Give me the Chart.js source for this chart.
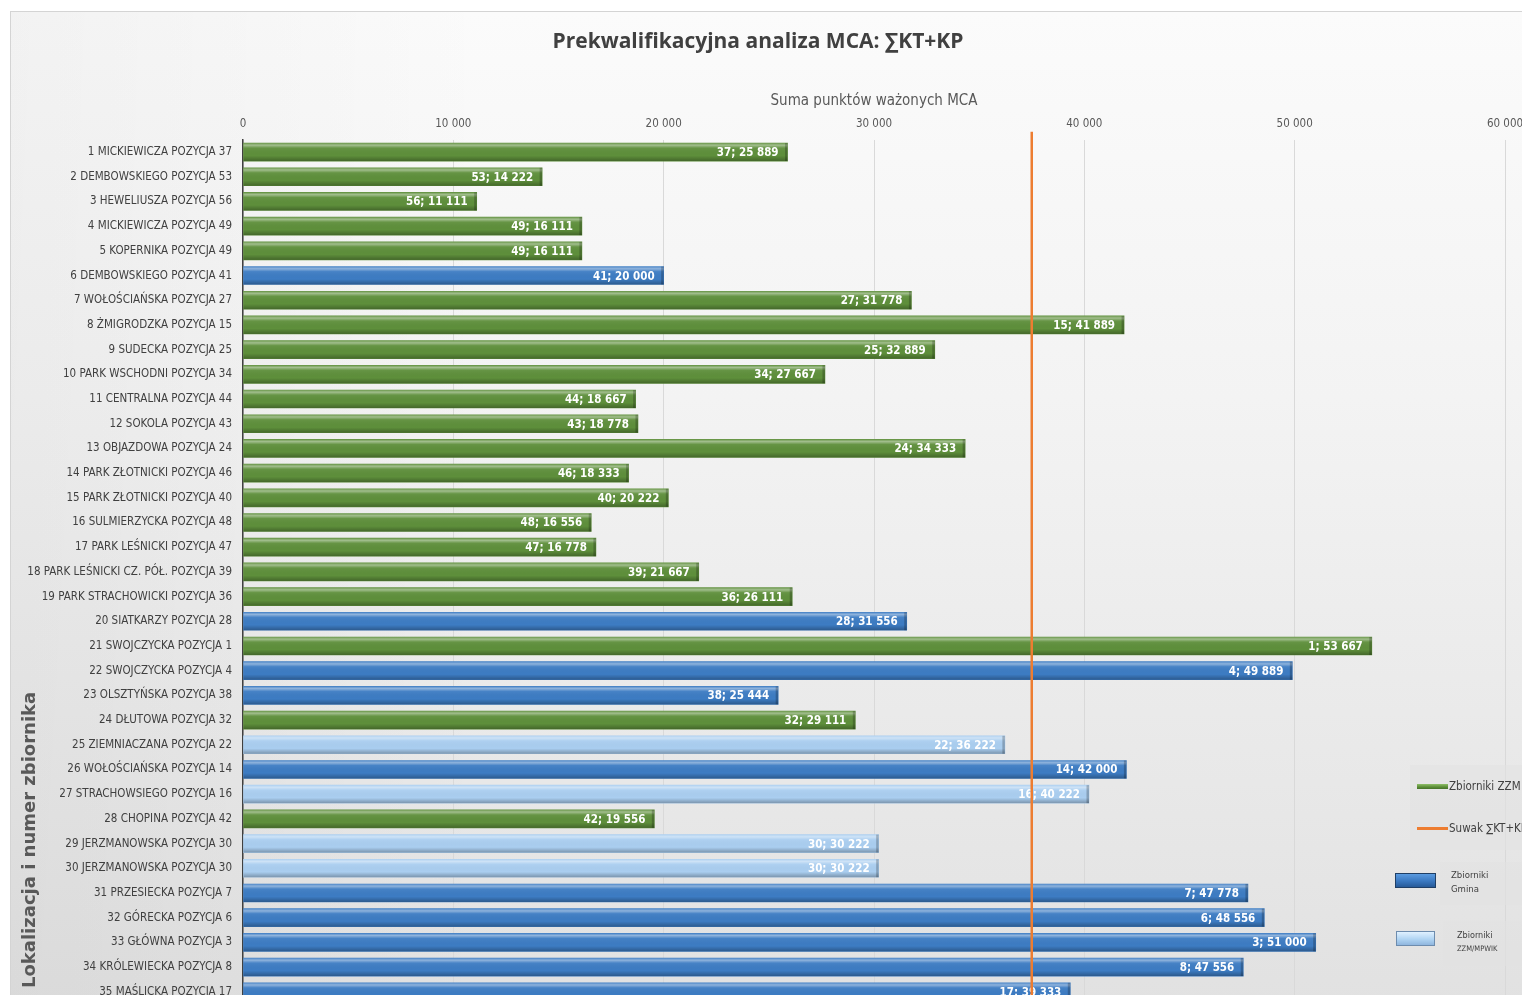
<!DOCTYPE html>
<html lang="pl">
<head>
<meta charset="UTF-8">
<title>Prekwalifikacyjna analiza MCA</title>
<script src="https://cdn.jsdelivr.net/npm/chart.js"></script>
<style>
  html, body { margin: 0; padding: 0; background: #fff; overflow: hidden; width: 1522px; height: 995px; }
  .frame {
    position: absolute; left: 10px; top: 11px; width: 1600px; height: 1100px;
    border: 1px solid #d4d4d4;
    background:
      linear-gradient(90deg, rgba(0,0,0,0.035) 0%, rgba(0,0,0,0) 30%),
      linear-gradient(180deg, #fbfbfb 0%, #f3f3f3 35%, #e8e8e8 70%, #dedede 100%);
  }
  #mca { position: absolute; left: 0; top: 0; }
  .lg { position: absolute; font-family: "Liberation Sans Narrow", "DejaVu Sans Condensed", sans-serif; color: #404040; white-space: nowrap; }
  .box { position: absolute; background: rgba(226,226,226,0.55); }
  .sw { position: absolute; }
</style>
</head>
<body>
<div class="frame">
  <canvas id="mca" width="1534" height="1010"></canvas>
</div>

<!-- legenda (obok wykresu, jak w oryginale) -->
<div class="box" style="left:1410px; top:765px; width:130px; height:85px;"></div>
<div class="sw" style="left:1417px; top:784px; width:31px; height:5px; background:linear-gradient(#8fbf68,#5b8d37 60%,#46722a);"></div>
<div class="lg" style="left:1449px; top:779px; font-size:11.5px;">Zbiorniki ZZM</div>
<div class="sw" style="left:1417px; top:827px; width:31px; height:3px; background:#ed7d31;"></div>
<div class="lg" style="left:1449px; top:821px; font-size:11.5px;">Suwak ∑KT+KP</div>

<div class="box" style="left:1440px; top:862px; width:100px; height:43px;"></div>
<div class="sw" style="left:1395px; top:873px; width:39px; height:13px; border:1px solid #1f3f66; background:linear-gradient(#5b9be0,#3a78c0 55%,#275a98);"></div>
<div class="lg" style="left:1451px; top:868px; font-size:9.5px; line-height:14px;">Zbiorniki<br>Gmina</div>

<div class="box" style="left:1443px; top:921px; width:100px; height:45px;"></div>
<div class="sw" style="left:1396px; top:931px; width:37px; height:13px; border:1px solid #6d8cae; background:linear-gradient(#e0f1ff,#b0d4f3 55%,#8fb6de);"></div>
<div class="lg" style="left:1457px; top:929px; font-size:9px; line-height:13px;">Zbiorniki<br><span style="font-size:7.5px">ZZM/MPWIK</span></div>

<script>
// kategorie (lokalizacja i numer zbiornika)
const categories = [
  '1 MICKIEWICZA POZYCJA 37', '2 DEMBOWSKIEGO POZYCJA 53', '3 HEWELIUSZA POZYCJA 56',
  '4 MICKIEWICZA POZYCJA 49', '5 KOPERNIKA POZYCJA 49', '6 DEMBOWSKIEGO POZYCJA 41',
  '7 WOŁOŚCIAŃSKA POZYCJA 27', '8 ŻMIGRODZKA POZYCJA 15', '9 SUDECKA POZYCJA 25',
  '10 PARK WSCHODNI POZYCJA 34', '11 CENTRALNA POZYCJA 44', '12 SOKOLA POZYCJA 43',
  '13 OBJAZDOWA POZYCJA 24', '14 PARK ZŁOTNICKI POZYCJA 46', '15 PARK ZŁOTNICKI POZYCJA 40',
  '16 SULMIERZYCKA POZYCJA 48', '17 PARK LEŚNICKI POZYCJA 47', '18 PARK LEŚNICKI CZ. PÓŁ. POZYCJA 39',
  '19 PARK STRACHOWICKI POZYCJA 36', '20 SIATKARZY POZYCJA 28', '21 SWOJCZYCKA POZYCJA 1',
  '22 SWOJCZYCKA POZYCJA 4', '23 OLSZTYŃSKA POZYCJA 38', '24 DŁUTOWA POZYCJA 32',
  '25 ZIEMNIACZANA POZYCJA 22', '26 WOŁOŚCIAŃSKA POZYCJA 14', '27 STRACHOWSIEGO POZYCJA 16',
  '28 CHOPINA POZYCJA 42', '29 JERZMANOWSKA POZYCJA 30', '30 JERZMANOWSKA POZYCJA 30',
  '31 PRZESIECKA POZYCJA 7', '32 GÓRECKA POZYCJA 6', '33 GŁÓWNA POZYCJA 3',
  '34 KRÓLEWIECKA POZYCJA 8', '35 MAŚLICKA POZYCJA 17'
];

// suma punktów ważonych MCA
const values = [
  25889, 14222, 11111, 16111, 16111, 20000, 31778, 41889, 32889, 27667,
  18667, 18778, 34333, 18333, 20222, 16556, 16778, 21667, 26111, 31556,
  53667, 49889, 25444, 29111, 36222, 42000, 40222, 19556, 30222, 30222,
  47778, 48556, 51000, 47556, 39333
];

// pozycja w rankingu
const ranks = [
  37, 53, 56, 49, 49, 41, 27, 15, 25, 34,
  44, 43, 24, 46, 40, 48, 47, 39, 36, 28,
  1, 4, 38, 32, 22, 14, 16, 42, 30, 30,
  7, 6, 3, 8, 17
];

// właściciel zbiornika: Z = ZZM, G = Gmina, M = ZZM/MPWIK
const owners = [
  'Z','Z','Z','Z','Z','G','Z','Z','Z','Z',
  'Z','Z','Z','Z','Z','Z','Z','Z','Z','G',
  'Z','G','G','Z','M','G','M','Z','M','M',
  'G','G','G','G','G'
];

// suwak ∑KT+KP
const suwak = [37500];

const xTicks = [0, 10000, 20000, 30000, 40000, 50000, 60000];

const yTitle = 'Lokalizacja i numer zbiornika';

const ownerColors = { Z: '#5e8f3b', G: '#3d7cc3', M: '#aacef0' };

const narrow = '"Liberation Sans Narrow", "DejaVu Sans Condensed", sans-serif';

function fmt(v) {
  return String(v).replace(/\B(?=(\d{3})+(?!\d))/g, ' ');
}

// połysk słupków, etykiety danych, linia suwaka i tytuł osi Y
const barDecor = {
  id: 'barDecor',
  afterDatasetsDraw(chart) {
    const ctx = chart.ctx;
    const area = chart.chartArea;
    const meta = chart.getDatasetMeta(0);
    ctx.save();
    meta.data.forEach((bar, i) => {
      const top = bar.y - bar.height / 2;
      const h = bar.height;
      const left = bar.base;
      const w = bar.x - bar.base;
      const g = ctx.createLinearGradient(0, top, 0, top + h);
      g.addColorStop(0, 'rgba(255,255,255,0.10)');
      g.addColorStop(0.12, 'rgba(255,255,255,0.42)');
      g.addColorStop(0.28, 'rgba(255,255,255,0.05)');
      g.addColorStop(0.7, 'rgba(0,0,0,0)');
      g.addColorStop(1, 'rgba(0,0,0,0.28)');
      ctx.fillStyle = g;
      ctx.fillRect(left, top, w, h);
      ctx.fillStyle = 'rgba(0,0,0,0.22)';
      ctx.fillRect(bar.x - 2.5, top, 2.5, h);

      ctx.font = 'bold 11.5px ' + narrow;
      ctx.fillStyle = '#ffffff';
      ctx.textAlign = 'right';
      ctx.textBaseline = 'middle';
      ctx.fillText(ranks[i] + '; ' + fmt(values[i]), bar.x - 9, bar.y + 1);
    });

    const xs = chart.scales.x.getPixelForValue(suwak[0]);
    ctx.strokeStyle = '#ed7d31';
    ctx.lineWidth = 2.5;
    ctx.beginPath();
    ctx.moveTo(xs, area.top - 8);
    ctx.lineTo(xs, area.bottom);
    ctx.stroke();

    ctx.translate(19, 976);
    ctx.rotate(-Math.PI / 2);
    ctx.font = 'bold 18px "DejaVu Sans", sans-serif';
    ctx.fillStyle = '#595959';
    ctx.textAlign = 'left';
    ctx.textBaseline = 'middle';
    ctx.fillText(yTitle, 0, 0);
    ctx.restore();
  }
};

new Chart(document.getElementById('mca'), {
  type: 'bar',
  data: {
    labels: categories,
    datasets: [{
      label: 'Suma punktów ważonych MCA',
      data: values,
      backgroundColor: owners.map(o => ownerColors[o]),
      borderWidth: 0,
      barThickness: 18
    }]
  },
  options: {
    indexAxis: 'y',
    responsive: false,
    animation: false,
    layout: { padding: { left: 0, right: 40, top: 0, bottom: 17 } },
    scales: {
      x: {
        position: 'top',
        min: 0,
        max: 60000,
        afterBuildTicks(scale) { scale.ticks = xTicks.map(v => ({ value: v })); },
        afterFit(scale) { scale.height = 76.5; },
        ticks: {
          color: '#595959',
          font: { family: narrow, size: 11.5 },
          padding: 9,
          callback: v => fmt(v)
        },
        grid: { color: '#d9d9d9', lineWidth: 1, drawTicks: false },
        border: { display: false },
        title: {
          display: true,
          text: 'Suma punktów ważonych MCA',
          color: '#595959',
          font: { family: narrow, size: 15 },
          padding: { top: 29, bottom: 0 }
        }
      },
      y: {
        afterFit(scale) { scale.width = 232; },
        ticks: {
          color: '#404040',
          font: { family: narrow, size: 11.5 },
          padding: 11,
          autoSkip: false
        },
        grid: { display: false, drawTicks: false },
        border: { display: true, color: '#404040', width: 1.5 }
      }
    },
    plugins: {
      legend: { display: false },
      tooltip: { enabled: false },
      title: {
        display: true,
        text: 'Prekwalifikacyjna analiza MCA: ∑KT+KP',
        color: '#404040',
        font: { family: '"Open Sans", sans-serif', size: 21, weight: 'bold' },
        padding: { top: 17, bottom: 9 }
      }
    }
  },
  plugins: [barDecor]
});
</script>
</body>
</html>
